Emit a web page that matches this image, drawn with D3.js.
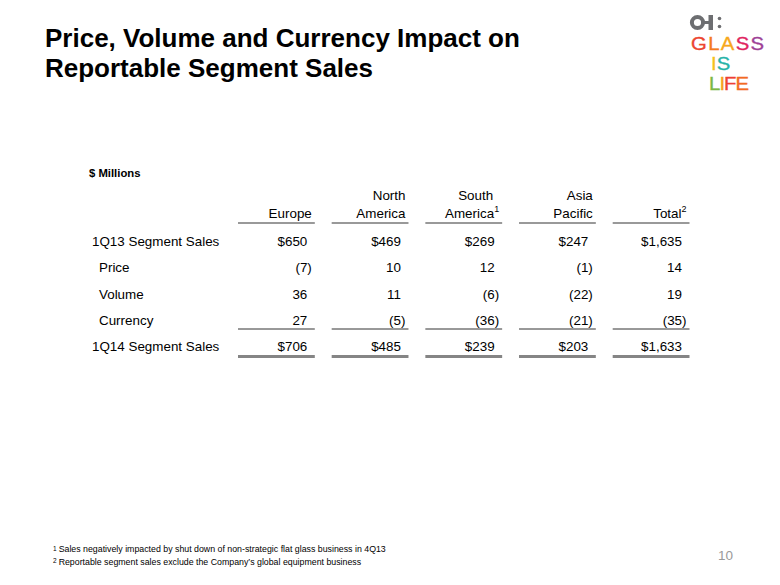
<!DOCTYPE html>
<html>
<head>
<meta charset="utf-8">
<script src="https://cdn.jsdelivr.net/npm/d3@7"></script>
<style>
  html, body { margin: 0; padding: 0; background: #fff; }
  svg { display: block; font-family: "Liberation Sans", Arial, sans-serif; }
</style>
</head>
<body>
<svg id="chart" width="780" height="585"></svg>
<script>
// ---- data ----
const regions = ["Europe", "North America", "South America", "Asia Pacific", "Total"];
const headerLine1 = ["", "North", "South", "Asia", ""];
const headerLine2 = ["Europe", "America", "America", "Pacific", "Total"];
const headerSup = ["", "", "1", "", "2"];
const rowLabels = ["1Q13 Segment Sales", "Price", "Volume", "Currency", "1Q14 Segment Sales"];
const sales1Q13 = [650, 469, 269, 247, 1635];
const price = [-7, 10, 12, -1, 14];
const volume = [36, 11, -6, -22, 19];
const currency = [27, -5, -36, -21, -35];
const sales1Q14 = [706, 485, 239, 203, 1633];
const titleLines = ["Price, Volume and Currency Impact on", "Reportable Segment Sales"];
const footnotes = [
  ["1", "Sales negatively impacted by shut down of non-strategic flat glass business in 4Q13"],
  ["2", "Reportable segment sales exclude the Company\u2019s global equipment business"]
];
const pageNumber = "10";

const rows = [sales1Q13, price, volume, currency, sales1Q14];
const dollarRows = [true, false, false, false, true];
const indentRows = [false, true, true, true, false];

const svg = d3.select("#chart");

// ---- title ----
svg.append("g").selectAll("text").data(titleLines).join("text")
  .attr("x", 45).attr("y", (d, i) => 47 + i * 30)
  .attr("font-size", 26).attr("font-weight", "bold").attr("fill", "#000")
  .text(d => d);

// ---- logo ----
const logo = svg.append("g");
logo.append("circle").attr("cx", 697.5).attr("cy", 22.5).attr("r", 5.6)
  .attr("fill", "none").attr("stroke", "#6d6e71").attr("stroke-width", 4);
logo.append("rect").attr("x", 701).attr("y", 21).attr("width", 8).attr("height", 3).attr("fill", "#6d6e71");
logo.append("rect").attr("x", 708.5).attr("y", 15).attr("width", 4.5).attr("height", 15).attr("fill", "#6d6e71");
logo.append("circle").attr("cx", 719.5).attr("cy", 18.5).attr("r", 1.8).attr("fill", "#6d6e71");
logo.append("circle").attr("cx", 719.5).attr("cy", 26.5).attr("r", 1.8).attr("fill", "#6d6e71");

const logoWords = [
  { x: 691, y: 50, spacing: 1.2, letters: [["G", "#ec4530"], ["L", "#f47b20"], ["A", "#f7a81b"], ["S", "#e0245e"], ["S", "#9e3f96"]] },
  { x: 711, y: 70, spacing: 0, letters: [["I", "#f6c21c"], ["S", "#27b3a8"]] },
  { x: 709, y: 90, spacing: -0.8, letters: [["L", "#7cb843"], ["I", "#f6a01a"], ["F", "#ee3f34"], ["E", "#f26a23"]] }
];
logoWords.forEach(w => {
  const g = logo.append("g").attr("transform", `translate(${w.x},${w.y}) scale(1.14,1)`);
  const t = g.append("text").attr("x", 0).attr("y", 0)
    .attr("font-family", "'Liberation Sans', Arial, sans-serif").attr("font-size", 17.8)
    .attr("letter-spacing", w.spacing);
  w.letters.forEach(([ch, col]) => t.append("tspan").attr("fill", col)
    .attr("stroke", col).attr("stroke-width", 0.35).text(ch));
});

// ---- table ----
const x = d3.scaleBand().domain(regions).range([238, 689.5]).paddingInner(0.18);
const y = d3.scalePoint().domain(rowLabels).range([246, 351]);

const fontSize = 13.4;

svg.append("text").attr("x", 89).attr("y", 177)
  .attr("font-size", 11.3).attr("font-weight", "bold").attr("fill", "#000")
  .text("$ Millions");

// headers
const hdr = svg.append("g").attr("font-size", fontSize).attr("fill", "#000");
regions.forEach((r, i) => {
  const right = x(r) + x.bandwidth() - 3;
  if (headerLine1[i]) {
    hdr.append("text").attr("x", right - (headerSup[i] ? 6 : 0)).attr("y", 200)
      .attr("text-anchor", "end").text(headerLine1[i]);
  }
  const t = hdr.append("text").attr("x", right).attr("y", 218).attr("text-anchor", "end");
  t.append("tspan").text(headerLine2[i]);
  if (headerSup[i]) {
    t.append("tspan").attr("font-size", 9).attr("dy", -6).text(headerSup[i]);
  }
});

// header underline
svg.append("g").selectAll("line").data(regions).join("line")
  .attr("x1", d => x(d)).attr("x2", d => x(d) + x.bandwidth())
  .attr("y1", 223).attr("y2", 223)
  .attr("stroke", "#777").attr("stroke-width", 1.6);

// row labels
svg.append("g").selectAll("text").data(rowLabels).join("text")
  .attr("x", (d, i) => indentRows[i] ? 99 : 92)
  .attr("y", d => y(d))
  .attr("font-size", fontSize).attr("fill", "#000")
  .text(d => d);

// values
const fmt = d3.format(",");
rows.forEach((vals, ri) => {
  const g = svg.append("g").attr("font-size", fontSize).attr("fill", "#000");
  vals.forEach((v, ci) => {
    const right = x(regions[ci]) + x.bandwidth() - 3;
    const s = (dollarRows[ri] ? "$" : "") + fmt(Math.abs(v));
    if (v < 0) {
      g.append("text").attr("x", right).attr("y", y(rowLabels[ri]))
        .attr("text-anchor", "end").text("(" + s + ")");
    } else {
      g.append("text").attr("x", right - 4.5).attr("y", y(rowLabels[ri]))
        .attr("text-anchor", "end").text(s);
    }
  });
});

// currency underline
svg.append("g").selectAll("line").data(regions).join("line")
  .attr("x1", d => x(d)).attr("x2", d => x(d) + x.bandwidth())
  .attr("y1", 329).attr("y2", 329)
  .attr("stroke", "#333").attr("stroke-width", 1);

// bottom thick line
svg.append("g").selectAll("line").data(regions).join("line")
  .attr("x1", d => x(d)).attr("x2", d => x(d) + x.bandwidth())
  .attr("y1", 356.5).attr("y2", 356.5)
  .attr("stroke", "#858585").attr("stroke-width", 3);

// ---- footnotes ----
const fn = svg.append("g").attr("font-size", 8.8).attr("fill", "#000");
footnotes.forEach(([n, txt], i) => {
  const t = fn.append("text").attr("x", 53).attr("y", 552 + i * 12.5);
  t.append("tspan").attr("font-size", 6.5).attr("dy", -1.5).text(n);
  t.append("tspan").attr("dx", 2).attr("dy", 1.5).text(txt);
});

// page number
svg.append("text").attr("x", 733).attr("y", 560).attr("text-anchor", "end")
  .attr("font-size", 13.5).attr("fill", "#9a9a9a").text(pageNumber);
</script>
</body>
</html>
